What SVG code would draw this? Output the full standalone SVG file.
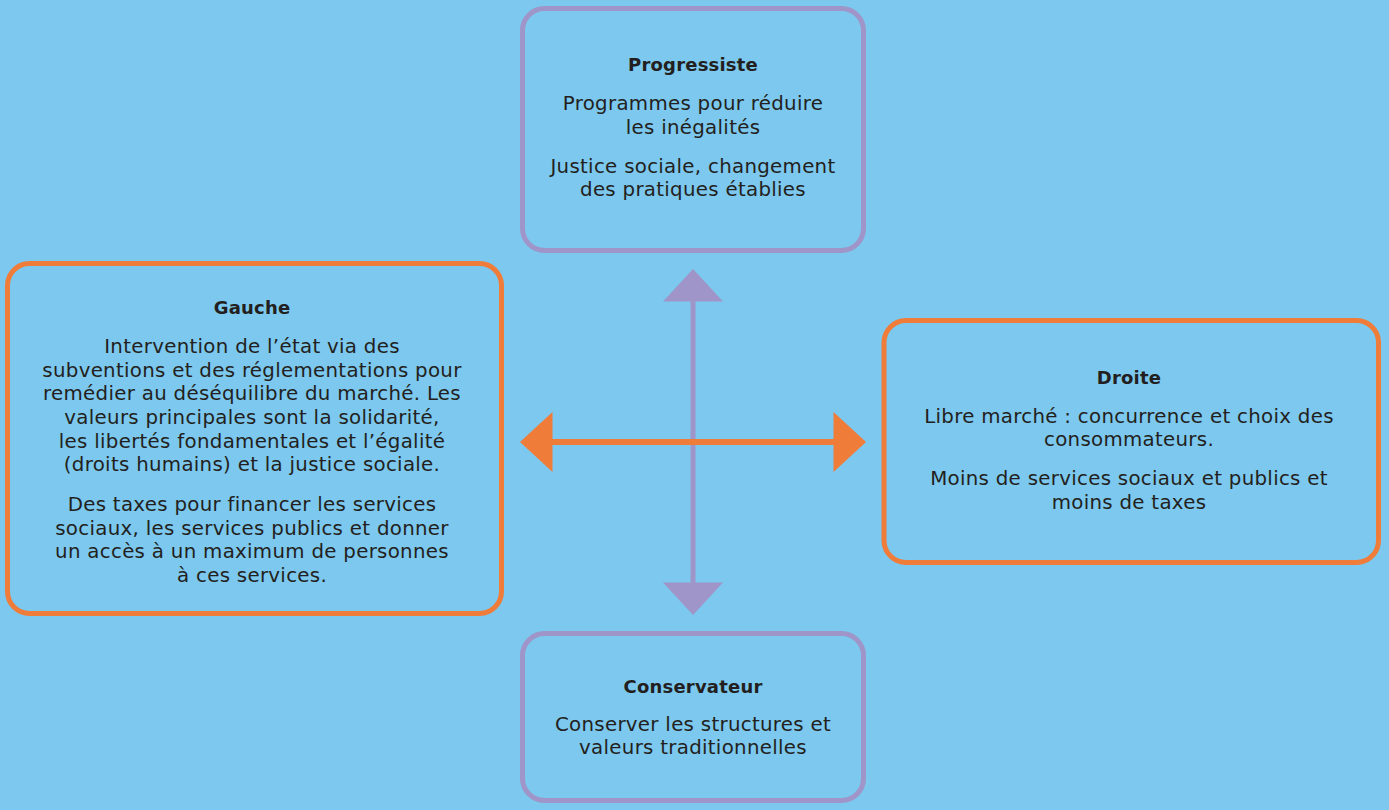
<svg xmlns="http://www.w3.org/2000/svg" width="1389" height="810" viewBox="0 0 1389 810">
<style>
.box{fill:#7cc8ee;stroke-width:5}
.p{stroke:#9f95c8}
.o{stroke:#f07c3a}
text{font-family:"DejaVu Sans","Noto Sans",sans-serif;fill:#231f20;text-anchor:middle}
.t{font-size:18px;font-weight:bold;letter-spacing:0.2px}
.b{font-size:19.8px;letter-spacing:0.3px}
</style>
<rect width="1389" height="810" fill="#7cc8ee"/>
<g id="connectors">
<line x1="693" y1="298" x2="693" y2="586" stroke="#9f95c8" stroke-width="5"/>
<polygon points="693,269 723,301.5 663,301.5" fill="#9f95c8"/>
<polygon points="693,615 723,582.5 663,582.5" fill="#9f95c8"/>
<line x1="550" y1="442" x2="836" y2="442" stroke="#f07c3a" stroke-width="6"/>
<polygon points="520,442 552.5,412 552.5,472" fill="#f07c3a"/>
<polygon points="866,442 833.5,412 833.5,472" fill="#f07c3a"/>
</g>
<g id="progressiste">
<rect class="box p" x="522.5" y="8.5" width="341" height="242" rx="22"/>
<text class="t" x="693" y="71">Progressiste</text>
<text class="b" x="693" y="110">Programmes pour réduire</text>
<text class="b" x="693" y="133.5">les inégalités</text>
<text class="b" x="693" y="172.5">Justice sociale, changement</text>
<text class="b" x="693" y="196">des pratiques établies</text>
</g>
<g id="gauche">
<rect class="box o" x="7.5" y="263.5" width="494" height="350" rx="22"/>
<text class="t" x="252" y="314">Gauche</text>
<text class="b" x="252" y="352.5">Intervention de l’état via des</text>
<text class="b" x="252" y="376.5">subventions et des réglementations pour</text>
<text class="b" x="252" y="400">remédier au déséquilibre du marché. Les</text>
<text class="b" x="252" y="424">valeurs principales sont la solidarité,</text>
<text class="b" x="252" y="447.5">les libertés fondamentales et l’égalité</text>
<text class="b" x="252" y="471">(droits humains) et la justice sociale.</text>
<text class="b" x="252" y="511">Des taxes pour financer les services</text>
<text class="b" x="252" y="534.5">sociaux, les services publics et donner</text>
<text class="b" x="252" y="558">un accès à un maximum de personnes</text>
<text class="b" x="252" y="581.5">à ces services.</text>
</g>
<g id="droite">
<rect class="box o" x="884" y="320.5" width="494.5" height="242" rx="22"/>
<text class="t" x="1129" y="384">Droite</text>
<text class="b" x="1129" y="422.5">Libre marché : concurrence et choix des</text>
<text class="b" x="1129" y="446">consommateurs.</text>
<text class="b" x="1129" y="485">Moins de services sociaux et publics et</text>
<text class="b" x="1129" y="508.5">moins de taxes</text>
</g>
<g id="conservateur">
<rect class="box p" x="522.5" y="633.5" width="341" height="167" rx="22"/>
<text class="t" x="693" y="692.5">Conservateur</text>
<text class="b" x="693" y="731">Conserver les structures et</text>
<text class="b" x="693" y="754">valeurs traditionnelles</text>
</g>
</svg>
